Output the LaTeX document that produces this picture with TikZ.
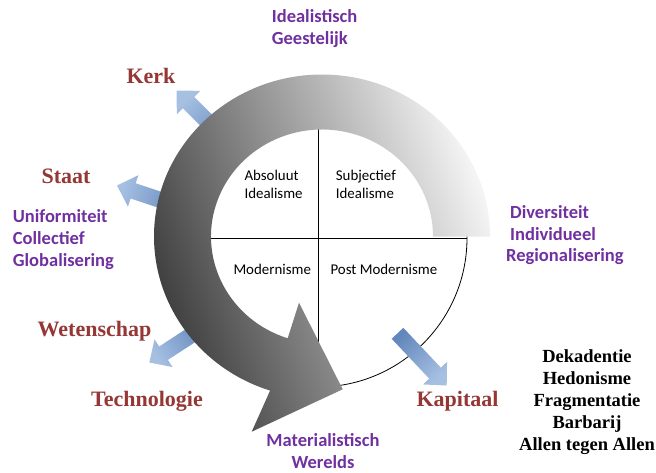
\documentclass[tikz,border=0pt]{standalone}
\usepackage{fontspec}
\setmainfont{Liberation Serif}
\newfontfamily\calibri{Carlito}
\usetikzlibrary{calc}
\definecolor{redlab}{HTML}{953735}
\definecolor{purplab}{HTML}{7030A0}
\definecolor{bluedark}{HTML}{6387BC}
\definecolor{bluelight}{HTML}{A6C0E2}
\definecolor{banddark}{HTML}{3C3C3C}
\definecolor{bandmid}{HTML}{B6B6B6}
\definecolor{bandlight}{HTML}{F4F4F4}
\newcommand\myblockarrow[3]{%
  \coordinate (ab) at ($(#2)!17pt!(#1)$);
  \shade[top color=bluelight, bottom color=bluedark, shading angle=#3]
    ($(#1)!8pt!90:(#2)$) -- ($(ab)!8pt!90:(#2)$) -- ($(ab)!16.5pt!90:(#2)$) -- (#2)
    -- ($(ab)!16.5pt!-90:(#2)$) -- ($(ab)!8pt!-90:(#2)$) -- ($(#1)!8pt!-90:(#2)$) -- cycle;
}
\begin{document}
\begin{tikzpicture}[x=1pt,y=-1pt,
  redlabel/.style={font=\fontsize{22}{26}\selectfont\bfseries, text=redlab, inner sep=0pt, anchor=base},
  purplabel/.style={font=\calibri\fontsize{18.5}{21.7}\selectfont\bfseries, text=purplab, inner sep=0pt, align=left, anchor=base west},
  quadlabel/.style={font=\calibri\fontsize{14.9}{17.6}\selectfont, inner sep=0pt, align=left, anchor=base west},
  blacklabel/.style={font=\fontsize{18.5}{22}\selectfont\bfseries, inner sep=0pt, align=center, anchor=base},
  bandshade/.style={top color=bandlight, middle color=bandmid, bottom color=banddark, shading angle=-70}
]
\useasboundingbox (0,0) rectangle (656,472);
% wheel
\coordinate (c) at (318,238);
\draw[line width=0.8pt, fill=white] (c) circle[radius=149];
\draw[line width=0.9pt] (169,238) -- (467,238);
\draw[line width=0.9pt] (318,89) -- (318,387);
% blue arrows
\coordinate (kerktail) at (232,146);
\coordinate (kerktip) at (176.5,90.5);
\coordinate (staattail) at (186,208.5);
\coordinate (staattip) at (117,185.5);
\coordinate (wettail) at (206,325.5);
\coordinate (wettip) at (149.3,362.5);
\coordinate (kaptail) at (397.5,333.3);
\coordinate (kaptip) at (446.7,385.5);
\myblockarrow{kerktail}{kerktip}{45}
\myblockarrow{staattail}{staattip}{71.6}
\myblockarrow{wettail}{wettip}{123}
\myblockarrow{kaptail}{kaptip}{-136.7}
% circular band arrow
\coordinate (bc) at (322,236.5);
\shade[bandshade] ($(bc)+(168,0)$) arc[start angle=0, end angle=-252, x radius=168, y radius=162]
  -- (251.7,431.7) -- (342.7,389.3) -- (299,302.7)
  -- ($(bc)+(-252:111 and 107)$) arc[start angle=-252, end angle=0, x radius=111, y radius=107] -- cycle;
% quadrant texts
\node[quadlabel] (absol) at (244.3,198.3) {Absoluut\\Idealisme};
\node[quadlabel] (subj) at (335.7,198.3) {Subjectief\\Idealisme};
\node[quadlabel] (modern) at (233.3,274.3) {Modernisme};
\node[quadlabel] (postmod) at (330.3,274.3) {Post Modernisme};
% red labels
\node[redlabel] (kerk) at (151,83.3) {Kerk};
\node[redlabel] (staat) at (66,183.3) {Staat};
\node[redlabel] (wetenschap) at (94.5,336) {Wetenschap};
\node[redlabel] (technologie) at (147,406) {Technologie};
\node[redlabel] (kapitaal) at (457.5,406.5) {Kapitaal};
% purple labels
\node[purplabel] (ideal) at (271.7,44.3) {Idealistisch\\Geestelijk};
\node[purplabel] (unif) at (12.7,266) {Uniformiteit\\Collectief\\Globalisering};
\node[purplabel] (divers) at (506,261.7) {\hspace*{4pt}Diversiteit\\\hspace*{4pt}Individueel\\Regionalisering};
\node[purplabel, align=center, anchor=base] (mater) at (323,468) {Materialistisch\\Werelds};
% black list
\node[blacklabel] (list) at (587,450) {Dekadentie\\Hedonisme\\Fragmentatie\\Barbarij\\Allen tegen Allen};
\end{tikzpicture}
\end{document}
